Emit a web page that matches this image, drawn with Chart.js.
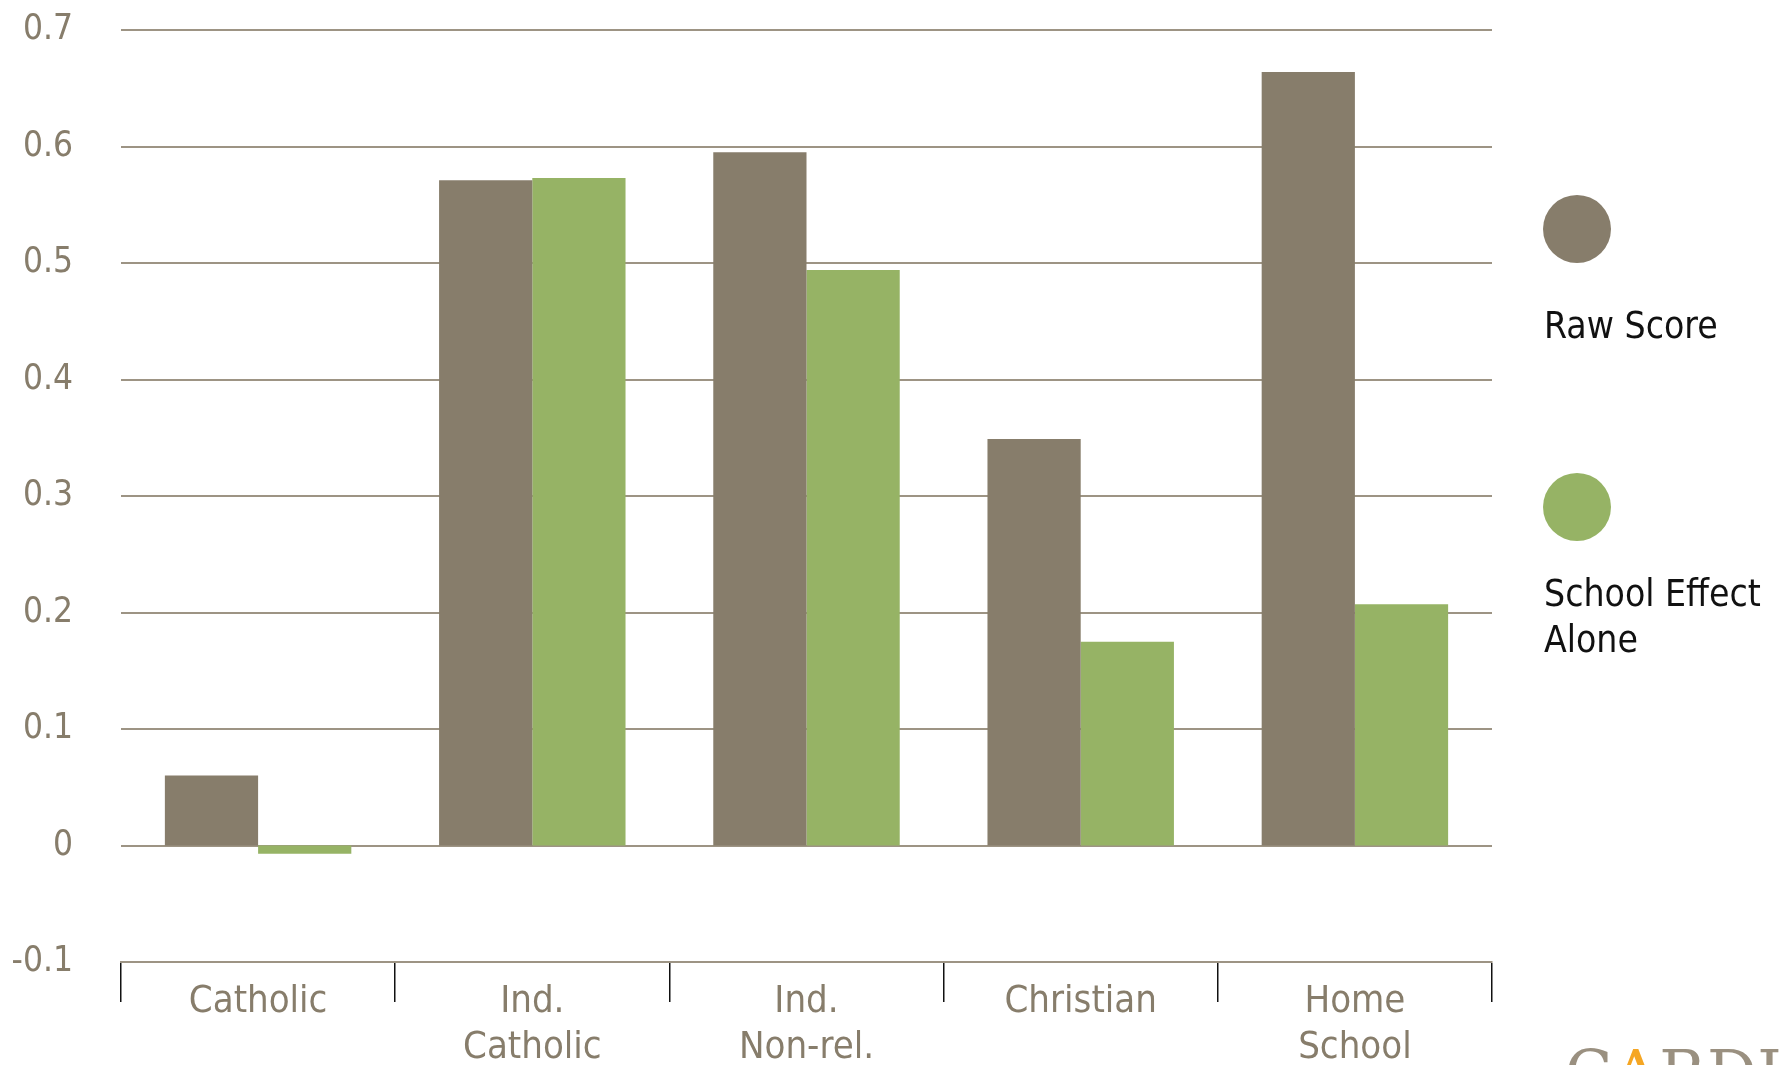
<!DOCTYPE html>
<html>
<head>
<meta charset="utf-8">
<script src="https://cdn.jsdelivr.net/npm/chart.js@4"></script>
<style>
  html, body { margin: 0; padding: 0; background: #fff; overflow: hidden; }
  #wrap { position: relative; width: 1786px; height: 1065px; overflow: hidden; }
  #chart { position: absolute; left: 0; top: 0; }
  .dot { position: absolute; width: 68px; height: 68px; border-radius: 50%; }
  .lbl { position: absolute; font-family: "DejaVu Sans Condensed", "DejaVu Sans", sans-serif;
         font-size: 37px; line-height: 46px; color: #111; white-space: nowrap; }
  #logo { position: absolute; left: 1565px; top: 1042px; font-family: "DejaVu Serif", serif;
          font-size: 62px; line-height: 1; color: #9a9080; letter-spacing: 1px; white-space: nowrap; }
  #logo span { color: #f5a623; }
</style>
</head>
<body>
<div id="wrap">
  <canvas id="chart" width="1786" height="1065"></canvas>
  <div id="legend"></div>
  <div id="logo">C<span>Λ</span>RDUS</div>
</div>
<script>
// categories (x axis, two-line labels)
const categories = [
  ["Catholic"],
  ["Ind.", "Catholic"],
  ["Ind.", "Non-rel."],
  ["Christian"],
  ["Home", "School"]
];
// series values
const rawScore = [0.060, 0.571, 0.595, 0.349, 0.664];
const schoolEffect = [-0.007, 0.573, 0.494, 0.175, 0.207];
const seriesNames = ["Raw Score", "School Effect Alone"];
const legendLines = [["Raw Score"], ["School Effect", "Alone"]];
// y axis
const yMin = -0.1, yMax = 0.7, yStep = 0.1;

const brown = "#877d6b";
const green = "#96b365";
const tickColor = "#877d6b";
const gridColor = "#9d9484";
const font = "'DejaVu Sans Condensed', 'DejaVu Sans', sans-serif";

const ctx = document.getElementById("chart");
const chart = new Chart(ctx, {
  type: "bar",
  data: {
    labels: categories,
    datasets: [
      { label: seriesNames[0], data: rawScore, backgroundColor: brown },
      { label: seriesNames[1], data: schoolEffect, backgroundColor: green }
    ]
  },
  options: {
    responsive: false,
    devicePixelRatio: 1,
    animation: false,
    layout: { padding: { top: 30, right: 294, left: 0, bottom: 0 } },
    datasets: { bar: { categoryPercentage: 0.68, barPercentage: 1.0 } },
    plugins: { legend: { display: false }, tooltip: { enabled: false } },
    scales: {
      x: {
        afterFit(scale) { scale.height = 103; },
        grid: { drawOnChartArea: false, drawTicks: true, tickLength: 40, color: "#111", lineWidth: 1.5, offset: true },
        border: { display: true, color: gridColor, width: 2 },
        ticks: {
          color: tickColor, padding: -23,
          font: { family: font, size: 38, lineHeight: 1.22 },
          maxRotation: 0, autoSkip: false
        }
      },
      y: {
        min: yMin, max: yMax,
        afterFit(scale) { scale.width = 121; },
        grid: { drawTicks: true, tickLength: 48, tickColor: "rgba(0,0,0,0)", color: gridColor, lineWidth: 2 },
        border: { display: false },
        ticks: {
          stepSize: yStep, color: tickColor, padding: 0,
          font: { family: font, size: 35 },
          callback: (v) => Math.round(v * 10) / 10 === 0 ? "0" : (Math.round(v * 10) / 10).toString()
        }
      }
    }
  }
});

// legend: circle above, label below
const legend = document.getElementById("legend");
const circleTops = [195, 473];
const labelTops = [303, 571];
chart.data.datasets.forEach((ds, i) => {
  const dot = document.createElement("div");
  dot.className = "dot";
  dot.style.left = "1543px";
  dot.style.top = circleTops[i] + "px";
  dot.style.background = ds.backgroundColor;
  legend.appendChild(dot);
  const lbl = document.createElement("div");
  lbl.className = "lbl";
  lbl.style.left = "1544px";
  lbl.style.top = labelTops[i] + "px";
  lbl.innerHTML = legendLines[i].join("<br>");
  legend.appendChild(lbl);
});
</script>
</body>
</html>
